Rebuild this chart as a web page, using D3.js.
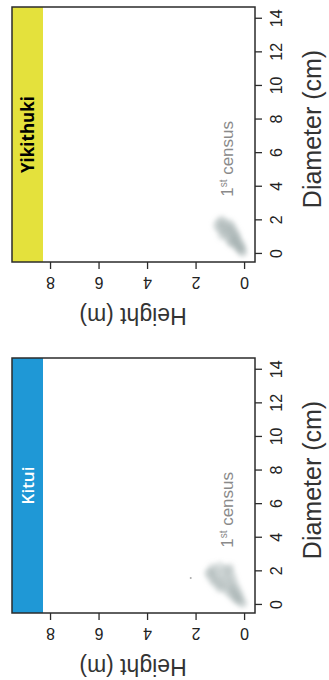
<!DOCTYPE html>
<html>
<head>
<meta charset="utf-8">
<script src="https://cdn.jsdelivr.net/npm/d3@7"></script>
<style>
  body { margin: 0; background: #fff; }
  text { font-family: "Liberation Sans", Arial, sans-serif; }
</style>
</head>
<body>
<svg id="chart"></svg>
<script>
// figure is drawn landscape, then turned a quarter turn counter-clockwise
const W = 680, H = 329

// data
const sites = ['Kitui', 'Yikithuki']
const stripColors = ['#1f98d6', '#e4e13c']
const stripText = ['#ffffff', '#000000']
const diameterTicks = [0, 2, 4, 6, 8, 10, 12, 14]
const heightTicks = [0, 2, 4, 6, 8]

const kituiDiameter = [2.3, 2.2, 2.1, 2.0, 1.9, 1.8, 1.7, 1.6, 1.5, 1.4, 1.3, 1.2, 1.1, 1.0, 0.9, 0.8, 0.7, 0.6, 0.5, 0.4, 0.3, 0.2, 0.1, 2.0, 1.7, 1.4, 1.1, 0.8, 0.5, 2.2, 1.9, 1.6, 1.3, 1.0, 1.6]
const kituiHeight   = [1.0, 1.3, 0.8, 1.2, 1.4, 0.9, 1.1, 0.7, 1.2, 0.8, 1.0, 0.6, 0.9, 0.5, 0.7, 0.4, 0.6, 0.35, 0.45, 0.25, 0.3, 0.15, 0.05, 0.6, 0.5, 0.45, 0.35, 0.25, 0.15, 0.6, 1.45, 1.35, 1.2, 1.0, 2.2]
const yikDiameter = [2.0, 1.9, 1.8, 1.7, 1.6, 1.5, 1.4, 1.3, 1.2, 1.1, 1.0, 0.9, 0.8, 0.7, 0.6, 0.5, 0.4, 0.3, 0.2, 0.1, 1.8, 1.6, 1.4, 1.2, 1.0, 0.8, 0.6, 0.4, 1.5, 1.1, 0.7]
const yikHeight   = [0.9, 1.0, 0.8, 1.1, 0.7, 0.9, 0.6, 0.8, 0.5, 0.7, 0.4, 0.6, 0.35, 0.5, 0.3, 0.35, 0.2, 0.2, 0.1, 0.05, 0.6, 0.5, 0.45, 0.35, 0.3, 0.25, 0.15, 0.1, 1.0, 0.9, 0.55]

const siteDiameter = [kituiDiameter, yikDiameter]
const siteHeight = [kituiHeight, yikHeight]

const panelLeft = [67, 418]
const boxW = 255, boxTop = 12, stripBottom = 43, boxBottom = 255

const svg = d3.select('#chart').attr('width', H).attr('height', W)

// blur for the fuzzy point cloud
svg.append('defs').append('filter').attr('id', 'soft')
  .attr('x', '-50%').attr('y', '-50%').attr('width', '200%').attr('height', '200%')
  .append('feGaussianBlur').attr('stdDeviation', 2.2)

const root = svg.append('g').attr('transform', 'translate(0,' + W + ') rotate(-90)')

sites.forEach((site, i) => {
  const left = panelLeft[i]
  const x = d3.scaleLinear().domain([-0.48, 14.7]).range([left, left + boxW])
  const y = d3.scaleLinear().domain([-0.45, 8.29]).range([boxBottom, stripBottom])

  const g = root.append('g')

  // strip
  g.append('rect')
    .attr('x', left).attr('y', boxTop)
    .attr('width', boxW).attr('height', stripBottom - boxTop)
    .attr('fill', stripColors[i])
  g.append('text')
    .attr('x', left + boxW / 2).attr('y', (boxTop + stripBottom) / 2)
    .attr('text-anchor', 'middle').attr('dominant-baseline', 'central')
    .style('font-family', '"Open Sans", sans-serif')
    .style('font-weight', i == 1 ? 700 : 600)
    .style('font-size', '17px')
    .attr('fill', stripText[i])
    .text(site)

  // points
  const pts = siteDiameter[i].map((d, j) => ({ d: d, h: siteHeight[i][j] }))
  g.append('g').attr('filter', 'url(#soft)')
    .selectAll('circle')
    .data(pts.filter(p => p.h < 2))
    .join('circle')
    .attr('cx', p => x(p.d)).attr('cy', p => y(p.h))
    .attr('r', 5)
    .attr('fill', '#a3adad')
    .attr('fill-opacity', 0.32)
  g.selectAll('circle.stray')
    .data(pts.filter(p => p.h >= 2))
    .join('circle')
    .attr('class', 'stray')
    .attr('cx', p => x(p.d)).attr('cy', p => y(p.h))
    .attr('r', 1)
    .attr('fill', '#aaa')

  // label
  const lab = g.append('text')
    .attr('x', x(3.4)).attr('y', 233)
    .attr('fill', '#8a8a8a')
    .style('font-size', '17px')
  lab.append('tspan').text('1')
  lab.append('tspan').attr('dy', -6).style('font-size', '10px').text('st')
  lab.append('tspan').attr('dy', 6).text(' census')

  // box
  g.append('rect')
    .attr('x', left).attr('y', boxTop)
    .attr('width', boxW).attr('height', boxBottom - boxTop)
    .attr('fill', 'none').attr('stroke', '#2b2b2b').attr('stroke-width', 1.5)

  // height axis
  const ya = g.append('g')
    .attr('transform', 'translate(' + left + ',0)')
    .call(d3.axisLeft(y).tickValues(heightTicks).tickSize(7))
  ya.select('.domain').remove()
  ya.selectAll('line').attr('stroke', '#2b2b2b').attr('stroke-width', 1.3)
  ya.selectAll('text')
    .attr('x', null).attr('dy', null)
    .attr('text-anchor', 'middle')
    .attr('transform', 'translate(-15,0) rotate(-90)')
    .style('font-size', '16px').attr('fill', '#222')

  // diameter axis
  const xa = g.append('g')
    .attr('transform', 'translate(0,' + boxBottom + ')')
    .call(d3.axisBottom(x).tickValues(diameterTicks).tickSize(7).tickPadding(9))
  xa.select('.domain').remove()
  xa.selectAll('line').attr('stroke', '#2b2b2b').attr('stroke-width', 1.3)
  xa.selectAll('text').style('font-size', '16px').attr('fill', '#222')

  // axis titles
  g.append('text')
    .attr('x', left + 133).attr('y', 321)
    .attr('text-anchor', 'middle')
    .style('font-size', '25px').attr('fill', '#333')
    .text('Diameter (cm)')
  g.append('text')
    .attr('transform', 'translate(' + (left - 46) + ',133) rotate(-90)')
    .attr('text-anchor', 'middle')
    .style('font-size', '23px').attr('fill', '#333')
    .text('Height (m)')
})
</script>
</body>
</html>
